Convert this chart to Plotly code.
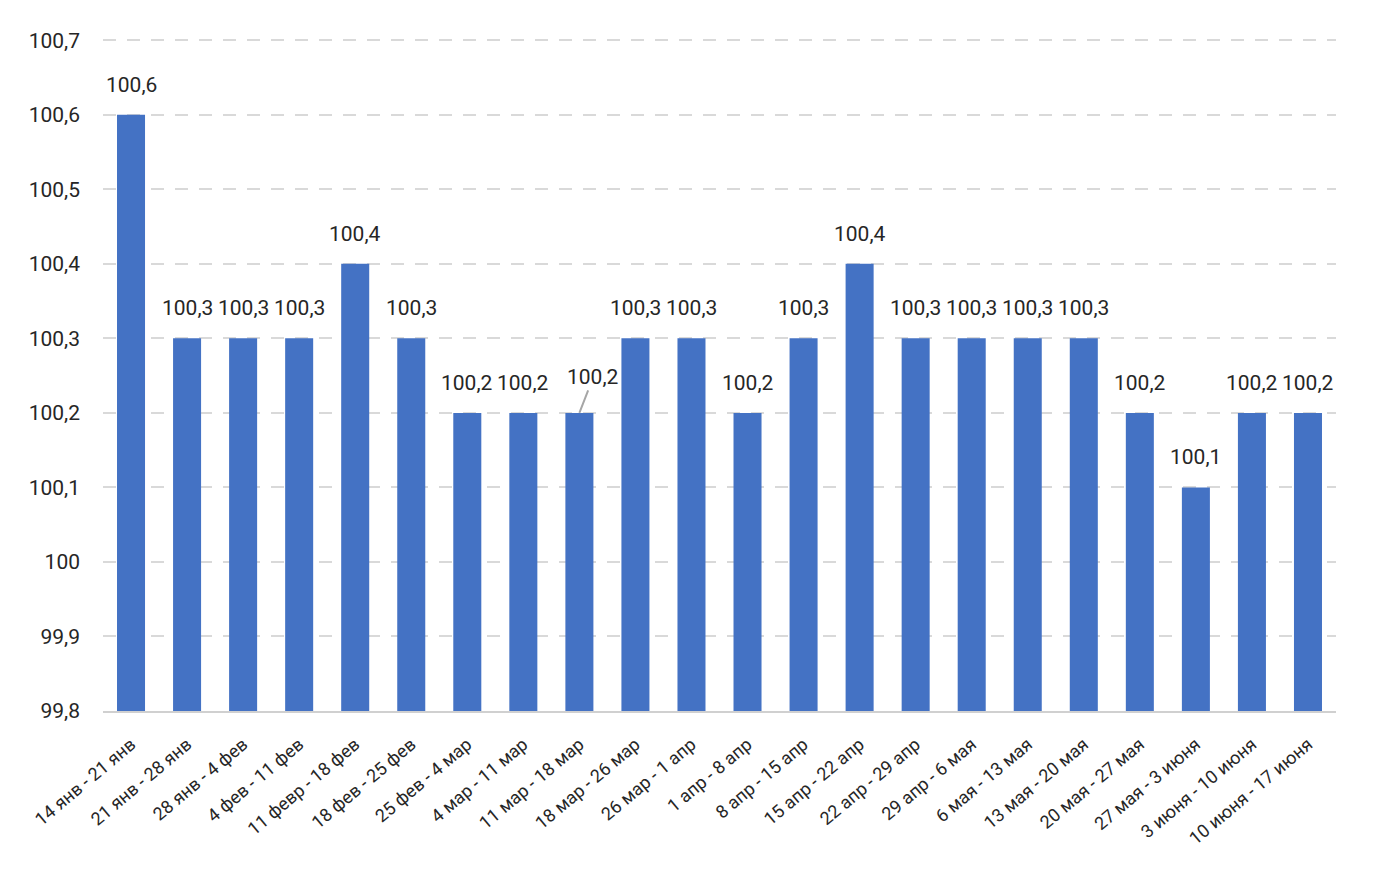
import plotly.graph_objects as go

categories = [
    "14 янв - 21 янв", "21 янв - 28 янв", "28 янв - 4 фев", "4 фев - 11 фев",
    "11 февр - 18 фев", "18 фев - 25 фев", "25 фев - 4 мар", "4 мар - 11 мар",
    "11 мар - 18 мар", "18 мар - 26 мар", "26 мар - 1 апр", "1 апр - 8 апр",
    "8 апр - 15 апр", "15 апр - 22 апр", "22 апр - 29 апр", "29 апр - 6 мая",
    "6 мая - 13 мая", "13 мая - 20 мая", "20 мая - 27 мая", "27 мая - 3 июня",
    "3 июня - 10 июня", "10 июня - 17 июня",
]
values = [100.6, 100.3, 100.3, 100.3, 100.4, 100.3, 100.2, 100.2, 100.2, 100.3,
          100.3, 100.2, 100.3, 100.4, 100.3, 100.3, 100.3, 100.3, 100.2, 100.1,
          100.2, 100.2]
tick_vals = [99.8, 99.9, 100.0, 100.1, 100.2, 100.3, 100.4, 100.5, 100.6, 100.7]
tick_text = ["99,8", "99,9", "100", "100,1", "100,2", "100,3", "100,4", "100,5", "100,6", "100,7"]
leader_label_index = 8  # label moved aside with a leader line

labels = [f"{v:.1f}".replace(".", ",") for v in values]

FONT = "Roboto, sans-serif"
TXT = "#262626"

fig = go.Figure(go.Bar(
    x=categories, y=values,
    marker=dict(color="#4472C4", line=dict(width=0)),
    width=0.5, hoverinfo="x+y",
))

for i, (c, v, t) in enumerate(zip(categories, values, labels)):
    if i == leader_label_index:
        fig.add_annotation(x=c, y=v, text=t, showarrow=True, arrowhead=0,
                           arrowwidth=2, arrowcolor="#a6a6a6", ax=14, ay=-36,
                           font=dict(size=21, color=TXT, family=FONT))
    else:
        fig.add_annotation(x=c, y=v, text=t, showarrow=False, yanchor="bottom",
                           yshift=16, font=dict(size=21, color=TXT, family=FONT))

fig.update_layout(
    width=1359, height=856,
    margin=dict(l=95, r=31, t=30, b=153),
    plot_bgcolor="white", paper_bgcolor="white",
    font=dict(family=FONT, color=TXT),
    showlegend=False,
    yaxis=dict(range=[99.8, 100.703], tickvals=tick_vals, ticktext=tick_text,
               showgrid=True, gridcolor="#d9d9d9", griddash="13px,11px", gridwidth=2,
               zeroline=False, showline=False, ticks="", ticklabelstandoff=22,
               automargin=False,
               tickfont=dict(size=21, color=TXT, family=FONT)),
    xaxis=dict(tickangle=-40, showline=True, linecolor="#d0d0d0", linewidth=2,
               ticks="", automargin=False, ticklabelstandoff=14,
               tickfont=dict(size=18, color=TXT, family=FONT),
               range=[-0.5, len(categories) - 0.5]),
)

fig.write_html("out.html")
